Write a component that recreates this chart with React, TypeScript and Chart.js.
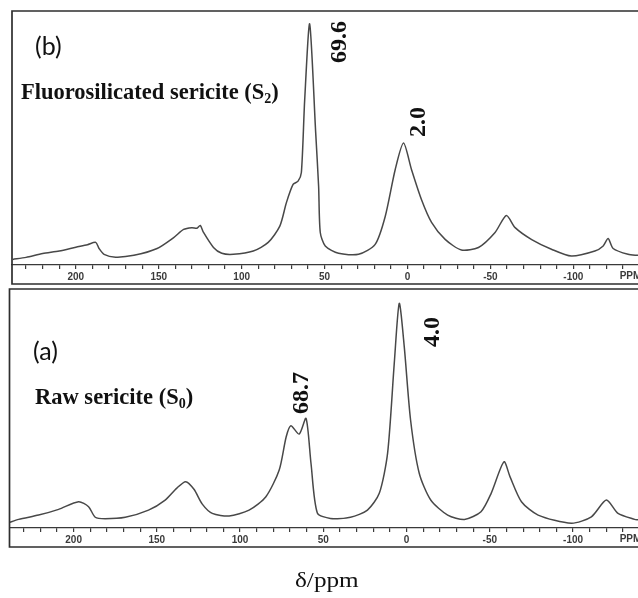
import React, { useEffect, useRef } from "react";
import { Chart, registerables } from "chart.js";

Chart.register(...registerables);

// ---- Data (ppm positions and relative intensities) ----
const PPM_B = [238, 230, 220, 210, 200, 193, 188, 186, 183, 176, 165, 151, 141, 135, 130, 127, 125, 123, 117, 112, 105, 93, 84, 77, 73, 69, 66, 64, 62, 59, 55.4, 53.6, 52.6, 49.6, 41.6, 29.5, 19.5, 13.4, 7.4, 2.4, -2.4, -8.4, -14.5, -22.7, -32.5, -42.8, -52.8, -59.6, -64.9, -74.9, -86.8, -98.8, -113, -118, -121, -124, -133, -139];
const INT_B = [2.2, 3.0, 4.5, 5.5, 7.0, 8.0, 8.9, 6.5, 4.2, 3.1, 3.8, 6.5, 10.8, 14.0, 14.7, 14.5, 15.6, 12.8, 6.9, 4.6, 4.2, 5.5, 8.9, 15.3, 24.6, 31.7, 33.0, 36.4, 65, 94.9, 52.5, 31, 12.8, 7.5, 4.6, 4.2, 8.1, 19.2, 37.6, 48, 37.6, 25.8, 16.8, 10.1, 5.9, 6.9, 12.8, 19.5, 14.7, 10, 6.2, 3.5, 5.5, 7.5, 10.4, 6.5, 4.2, 3.8];

const PPM_A = [239, 233, 221, 209, 197, 191, 187, 181, 169, 155, 145, 138, 132.7, 127.7, 122.7, 116.7, 106.6, 94.6, 84.5, 76.5, 72.3, 69.5, 64.5, 60.4, 57.4, 53.6, 45.8, 33.7, 23.5, 16.4, 11.4, 7.4, 4.4, 1.4, -2.4, -7.6, -14.5, -24.7, -34.8, -44.7, -50.8, -58.5, -62.1, -69, -79, -99, -111, -120, -127, -137, -139];
const INT_A = [2.2, 3.6, 5.4, 7.8, 11, 8.9, 4.5, 3.9, 4.5, 7.5, 11.7, 16.7, 19.4, 16.2, 10, 6.1, 5, 7.5, 13.1, 24.3, 38.2, 42.8, 39.3, 45.9, 27, 6.3, 4, 4.5, 7.5, 14.5, 31.3, 68.9, 94, 75.9, 45.2, 22.9, 11.7, 5.4, 3.6, 6.8, 14.5, 27.7, 21.5, 11, 5.4, 2, 4.7, 11.7, 6.1, 3.6, 3.4];

const TICK_VALUES = [230, 220, 210, 200, 190, 180, 170, 160, 150, 140, 130, 120, 110, 100, 90, 80, 70, 60, 50, 40, 30, 20, 10, 0, -10, -20, -30, -40, -50, -60, -70, -80, -90, -100, -110, -120, -130];
const TICK_LABELS = [200, 150, 100, 50, 0, -50, -100];
const UNIT_LABEL = "PPM";
const UNIT_AT = -134.5;
const X_MIN = -139;
const X_MAX = 238.5;

const AXIS_H = 19;
const SERIF = '"Liberation Serif", "DejaVu Serif", "Times New Roman", serif';
const SANS_PANEL = 'Lato, "Open Sans", "Liberation Sans", sans-serif';
const TICK_FONT = '"Liberation Sans Narrow", "Liberation Sans", Arial, sans-serif';

type Note = {
  text: string;
  sub?: string;
  after?: string;
  x: number;
  y: number;
  font: string;
  subFont?: string;
  rotate?: boolean;
  sx?: number;
};

const NOTES_B: Note[] = [
  { text: "(b)", x: 35, y: 55, font: `25px ${SANS_PANEL}` },
  { text: "Fluorosilicated sericite (S", sub: "2", after: ")", x: 21, y: 99, font: `bold 22.5px ${SERIF}`, subFont: `bold 14px ${SERIF}` },
  { text: "69.6", x: 340, y: 42, font: `bold 24px ${SERIF}`, rotate: true },
  { text: "2.0", x: 419, y: 122, font: `bold 24px ${SERIF}`, rotate: true },
];

const NOTES_A: Note[] = [
  { text: "(a)", x: 33, y: 73, font: `25px ${SANS_PANEL}` },
  { text: "Raw sericite (S", sub: "0", after: ")", x: 35, y: 117, font: `bold 22.5px ${SERIF}`, subFont: `bold 14px ${SERIF}` },
  { text: "68.7", x: 302, y: 106, font: `bold 24px ${SERIF}`, rotate: true },
  { text: "4.0", x: 433, y: 45, font: `bold 24px ${SERIF}`, rotate: true },
];

const framePlugin = {
  id: "frame",
  afterDraw(chart: any) {
    const { ctx, chartArea } = chart;
    const bottom = chartArea.bottom + AXIS_H;
    ctx.save();
    ctx.strokeStyle = "#2e2e2e";
    ctx.lineWidth = 1.7;
    ctx.beginPath();
    ctx.moveTo(chart.width + 4, chartArea.top);
    ctx.lineTo(chartArea.left, chartArea.top);
    ctx.lineTo(chartArea.left, bottom);
    ctx.lineTo(chart.width + 4, bottom);
    ctx.stroke();
    const xs = chart.scales.x;
    ctx.fillStyle = "#3a3a3a";
    ctx.font = `bold 10px ${TICK_FONT}`;
    ctx.textAlign = "center";
    ctx.textBaseline = "middle";
    ctx.fillText(UNIT_LABEL, xs.getPixelForValue(UNIT_AT), chartArea.bottom + 11.5);
    ctx.restore();
  },
};

const notesPlugin = {
  id: "notes",
  afterDraw(chart: any, _args: any, opts: any) {
    const ctx = chart.ctx as CanvasRenderingContext2D;
    const notes: Note[] = opts.notes || [];
    const extra = opts.extra as Note | undefined;
    const all = extra ? [...notes, extra] : notes;
    ctx.save();
    ctx.fillStyle = "#111";
    for (const n of all) {
      ctx.font = n.font;
      if (n.rotate) {
        ctx.save();
        ctx.translate(n.x, n.y);
        ctx.rotate(-Math.PI / 2);
        ctx.textAlign = "center";
        ctx.textBaseline = "middle";
        ctx.fillText(n.text, 0, 0);
        ctx.restore();
      } else {
        ctx.save();
        ctx.translate(n.x, n.y);
        ctx.scale(n.sx || 1, 1);
        ctx.textAlign = "left";
        ctx.textBaseline = "alphabetic";
        ctx.fillText(n.text, 0, 0);
        let cx = ctx.measureText(n.text).width;
        if (n.sub) {
          ctx.font = n.subFont || n.font;
          ctx.fillText(n.sub, cx, 4);
          cx += ctx.measureText(n.sub).width;
          ctx.font = n.font;
        }
        if (n.after) ctx.fillText(n.after, cx, 0);
        ctx.restore();
      }
    }
    ctx.restore();
  },
};

function buildConfig(ppm: number[], vals: number[], notes: Note[], pad: { left: number; top: number; bottom: number }, extra?: Note) {
  return {
    type: "line" as const,
    data: {
      datasets: [
        {
          data: ppm.map((p, i) => ({ x: p, y: vals[i] })),
          borderColor: "#484848",
          borderWidth: 1.5,
          pointRadius: 0,
          tension: 0.25,
          fill: false,
        },
      ],
    },
    options: {
      animation: false,
      responsive: false,
      maintainAspectRatio: false,
      layout: { padding: { left: pad.left, top: pad.top, right: 0, bottom: pad.bottom } },
      plugins: {
        legend: { display: false },
        tooltip: { enabled: false },
        notes: { notes, extra },
      },
      scales: {
        x: {
          type: "linear",
          reverse: true,
          min: X_MIN,
          max: X_MAX,
          afterBuildTicks: (s: any) => {
            s.ticks = TICK_VALUES.map((v) => ({ value: v }));
          },
          afterFit: (s: any) => {
            s.height = AXIS_H;
          },
          grid: { drawOnChartArea: false, drawTicks: true, tickLength: 4, color: "#3a3a3a", lineWidth: 1.2 },
          border: { display: true, color: "#3a3a3a", width: 1.2 },
          ticks: {
            autoSkip: false,
            maxRotation: 0,
            minRotation: 0,
            padding: 2,
            color: "#3a3a3a",
            font: { family: TICK_FONT, size: 10, weight: "bold" },
            callback: (v: any) => (TICK_LABELS.includes(Number(v)) ? String(v) : ""),
          },
        },
        y: { display: false, min: 0, max: 100 },
      },
    },
    plugins: [framePlugin, notesPlugin],
  };
}

function Panel(props: { top: number; height: number; ppm: number[]; vals: number[]; notes: Note[]; pad: { left: number; top: number; bottom: number }; extra?: Note }) {
  const ref = useRef<HTMLCanvasElement | null>(null);
  useEffect(() => {
    if (!ref.current) return;
    const chart = new Chart(ref.current, buildConfig(props.ppm, props.vals, props.notes, props.pad, props.extra) as any);
    return () => chart.destroy();
  }, []);
  return (
    <canvas
      ref={ref}
      width={638}
      height={props.height}
      style={{ position: "absolute", left: 0, top: props.top, width: 638, height: props.height, display: "block" }}
    />
  );
}

export default function App() {
  const axisTitle: Note = { text: "δ/ppm", x: 295, y: 300, font: `21px ${SERIF}`, sx: 1.2 };
  return (
    <div style={{ position: "absolute", left: 0, top: 0, width: 638, height: 598, overflow: "hidden", background: "#fff" }}>
      <Panel top={0} height={290} ppm={PPM_B} vals={INT_B} notes={NOTES_B} pad={{ left: 12, top: 11, bottom: 6 }} />
      <Panel top={287} height={311} ppm={PPM_A} vals={INT_A} notes={NOTES_A} pad={{ left: 9.5, top: 2, bottom: 51 }} extra={axisTitle} />
    </div>
  );
}
